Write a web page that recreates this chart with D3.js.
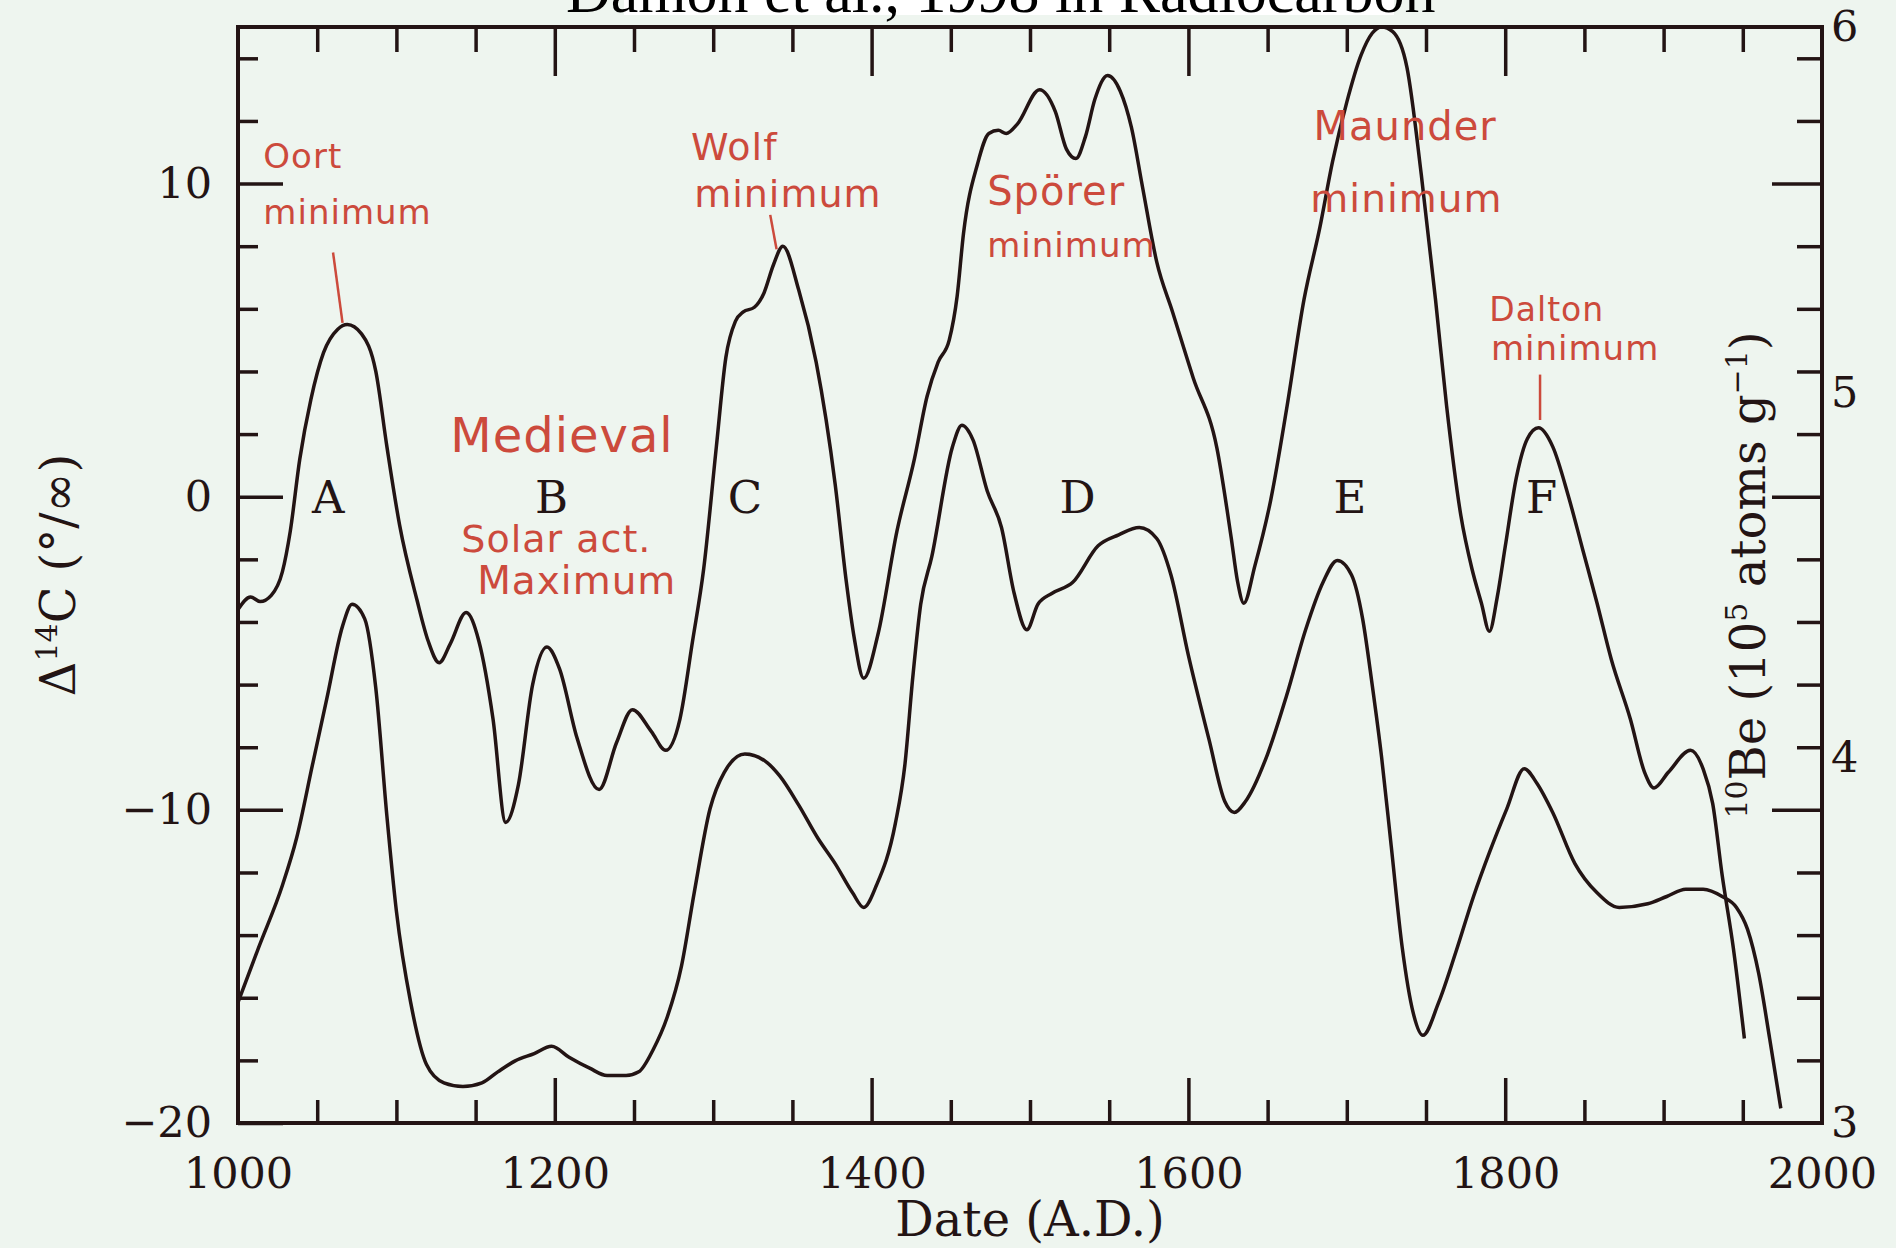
<!DOCTYPE html>
<html lang="en">
<head>
<meta charset="UTF-8">
<title>Damon et al., 1998 in Radiocarbon</title>
<style>
  body { margin: 0; background: #eef5ef; }
  svg { display: block; }
</style>
</head>
<body>
<svg width="1896" height="1248"></svg>
<script src="https://d3js.org/d3.v7.min.js"></script>
<script>

// delta 14C record (left axis, per mil)
var c14Years = [1000, 1008, 1014, 1021, 1028, 1033, 1039, 1046, 1054, 1063, 1069, 1078, 1087, 1094, 1102, 1113,
  1120, 1127, 1134, 1144, 1152, 1161, 1169, 1177, 1186, 1195, 1203, 1214, 1228, 1239, 1249, 1261, 1270, 1279,
  1287, 1294, 1302, 1308, 1314, 1319, 1326, 1332, 1338, 1344, 1354, 1365, 1377, 1384, 1389, 1395, 1404, 1416,
  1427, 1435, 1442, 1449, 1454, 1458, 1467, 1474, 1480, 1485, 1492, 1506, 1516, 1523, 1529, 1535, 1541, 1549,
  1557, 1564, 1571, 1580, 1590, 1603, 1618, 1627, 1631, 1635, 1642, 1652, 1662, 1673, 1683, 1691, 1700, 1709,
  1716, 1722, 1729, 1738, 1747, 1756, 1763, 1772, 1779, 1785, 1790, 1795, 1800, 1807, 1814, 1821, 1830, 1840,
  1849, 1858, 1867, 1879, 1888, 1894, 1903, 1917, 1925, 1931, 1937, 1944, 1951];
var c14Values = [-3.6, -3.2, -3.35, -3.15, -2.4, -1.1, 1.2, 3.1, 4.6, 5.35, 5.5, 5.2, 4.0, 1.6, -0.9, -3.3,
  -4.6, -5.3, -4.7, -3.7, -4.6, -7.1, -10.4, -9.2, -6.0, -4.8, -5.5, -7.7, -9.35, -7.85, -6.8, -7.5, -8.1, -7.1,
  -4.6, -2.3, 1.6, 4.45, 5.6, 5.9, 6.05, 6.5, 7.4, 8.0, 6.6, 4.3, 0.4, -2.7, -4.5, -5.8, -4.4, -1.1,
  1.2, 3.2, 4.3, 5.0, 6.4, 8.4, 10.65, 11.6, 11.7, 11.6, 11.9, 13.0, 12.3, 11.1, 10.8, 11.5, 12.7, 13.45,
  12.95, 11.8, 9.9, 7.5, 5.9, 3.8, 1.55, -1.3, -2.7, -3.4, -2.2, -0.1, 2.8, 6.3, 8.6, 10.7, 12.6, 14.1,
  14.8, 15.0, 14.85, 13.7, 10.3, 6.3, 2.9, -0.6, -2.3, -3.4, -4.3, -3.2, -1.6, 0.6, 1.85, 2.2, 1.6, 0.0,
  -1.7, -3.4, -5.2, -7.1, -8.8, -9.3, -8.8, -8.1, -8.7, -9.8, -12.1, -14.4, -17.3];

// 10Be record (right axis, 10^5 atoms/g)
var beYears = [1000, 1013, 1028, 1037, 1047, 1056, 1066, 1072, 1080, 1087, 1094, 1100, 1109, 1119, 1130, 1142,
  1154, 1164, 1175, 1187, 1198, 1209, 1222, 1233, 1245, 1253, 1262, 1271, 1280, 1288, 1298, 1307, 1320, 1333,
  1342, 1354, 1366, 1377, 1388, 1395, 1403, 1415, 1421, 1426, 1431, 1438, 1451, 1457, 1464, 1473, 1482, 1490,
  1498, 1505, 1514, 1527, 1543, 1556, 1569, 1580, 1589, 1600, 1613, 1623, 1629, 1636, 1650, 1662, 1674, 1685,
  1694, 1703, 1710, 1716, 1722, 1728, 1735, 1742, 1748, 1758, 1769, 1780, 1790, 1801, 1812, 1820, 1830, 1844,
  1858, 1872, 1890, 1902, 1914, 1925, 1937, 1946, 1953, 1960, 1967, 1974];
var beValues = [3.33, 3.48, 3.65, 3.78, 3.98, 4.16, 4.36, 4.42, 4.38, 4.19, 3.84, 3.58, 3.33, 3.16, 3.11, 3.10,
  3.11, 3.14, 3.17, 3.19, 3.21, 3.18, 3.15, 3.13, 3.13, 3.14, 3.20, 3.29, 3.43, 3.63, 3.86, 3.96, 4.01, 3.99,
  3.95, 3.87, 3.78, 3.71, 3.63, 3.59, 3.65, 3.82, 3.98, 4.22, 4.42, 4.55, 4.85, 4.91, 4.87, 4.73, 4.63, 4.45,
  4.35, 4.42, 4.45, 4.48, 4.58, 4.61, 4.63, 4.60, 4.50, 4.28, 4.05, 3.88, 3.85, 3.88, 4.01, 4.17, 4.35, 4.48,
  4.54, 4.50, 4.38, 4.20, 4.00, 3.76, 3.48, 3.30, 3.24, 3.33, 3.47, 3.62, 3.74, 3.86, 3.97, 3.93, 3.85, 3.71,
  3.63, 3.59, 3.60, 3.62, 3.64, 3.64, 3.62, 3.59, 3.53, 3.41, 3.23, 3.04];

var xMinorTicks = [1050, 1100, 1150, 1250, 1300, 1350, 1450, 1500, 1550, 1650, 1700, 1750, 1850, 1900, 1950];
var xMajorTicks = [1200, 1400, 1600, 1800];
var xLabels = [1000, 1200, 1400, 1600, 1800, 2000];
var leftMinorTicks = [-18, -16, -14, -12, -8, -6, -4, -2, 2, 4, 6, 8, 12, 14];
var leftMajorTicks = [-20, -10, 0, 10];
var rightLabels = [3, 4, 5, 6];

var periodLetters = ["A", "B", "C", "D", "E", "F"];
var periodYears = [1057, 1198, 1320, 1530, 1702, 1823];

var noteText = ["Oort", "minimum", "Wolf", "minimum", "Spörer", "minimum", "Maunder", "minimum",
  "Dalton", "minimum", "Medieval", "Solar act.", "Maximum"];
var noteYear = [1016, 1016, 1286, 1288, 1473, 1473, 1679, 1677, 1790, 1791, 1134, 1141, 1151];
var noteValue = [10.5, 8.71, 10.75, 9.25, 9.32, 7.66, 11.4, 9.1, 5.61, 4.37, 1.43, -1.75, -3.1];
var noteSize = [34, 34, 38, 38, 40, 34, 40, 39, 33, 34, 48, 38, 39];

var leaderFrom = [[1060, 7.8], [1336, 9.0], [1822, 3.9]];
var leaderTo = [[1066, 5.55], [1340, 7.9], [1822, 2.45]];

var ink = "#231414",
    red = "#cc4a3c";

var svg = d3.select("svg"),
    margin = {top: 27, right: 74, bottom: 125, left: 238},
    width = +svg.attr("width") - margin.left - margin.right,
    height = +svg.attr("height") - margin.top - margin.bottom;

svg.append("rect")
    .attr("width", +svg.attr("width"))
    .attr("height", +svg.attr("height"))
    .attr("fill", "#eef5ef");

// slide title, cut off at the top edge
svg.append("rect")
    .attr("x", 624).attr("y", 0)
    .attr("width", 770).attr("height", 15)
    .attr("fill", "#ffffff");
svg.append("text")
    .attr("x", 566).attr("y", 12)
    .attr("font-family", "Liberation Serif")
    .attr("font-size", 62)
    .attr("fill", "#000")
    .text("Damon et al., 1998 in Radiocarbon");

var g = svg.append("g").attr("transform", "translate(" + margin.left + "," + margin.top + ")");

var x = d3.scaleLinear().domain([1000, 2000]).range([0, width]);
var yL = d3.scaleLinear().domain([-20, 15]).range([height, 0]);
var yR = d3.scaleLinear().domain([3, 6]).range([height, 0]);

function styleAxis(sel) {
  sel.select(".domain").remove();
  sel.selectAll("line").attr("stroke", ink).attr("stroke-width", 3.5);
  sel.selectAll("text")
      .attr("fill", ink)
      .attr("font-family", "DejaVu Serif")
      .attr("font-size", 43);
}

// left axis
g.append("g")
    .call(d3.axisLeft(yL).tickValues(leftMinorTicks).tickSizeInner(-20).tickSizeOuter(0).tickFormat(""))
    .call(styleAxis);
g.append("g")
    .call(d3.axisLeft(yL).tickValues(leftMajorTicks).tickSizeInner(-45).tickSizeOuter(0).tickPadding(26))
    .call(styleAxis);

// right axis: ticks mirror the left scale, labels use the 10Be scale
g.append("g")
    .attr("transform", "translate(" + width + ",0)")
    .call(d3.axisRight(yL).tickValues(leftMinorTicks).tickSizeInner(-25).tickSizeOuter(0).tickFormat(""))
    .call(styleAxis);
g.append("g")
    .attr("transform", "translate(" + width + ",0)")
    .call(d3.axisRight(yL).tickValues([-10, 0, 10]).tickSizeInner(-50).tickSizeOuter(0).tickFormat(""))
    .call(styleAxis);
g.append("g")
    .attr("transform", "translate(" + width + ",0)")
    .call(d3.axisRight(yR).tickValues(rightLabels).tickSize(0).tickPadding(9).tickFormat(d3.format("d")))
    .call(styleAxis);

// top axis
g.append("g")
    .call(d3.axisTop(x).tickValues(xMinorTicks).tickSizeInner(-25).tickSizeOuter(0).tickFormat(""))
    .call(styleAxis);
g.append("g")
    .call(d3.axisTop(x).tickValues(xMajorTicks).tickSizeInner(-49).tickSizeOuter(0).tickFormat(""))
    .call(styleAxis);

// bottom axis
g.append("g")
    .attr("transform", "translate(0," + height + ")")
    .call(d3.axisBottom(x).tickValues(xMinorTicks).tickSizeInner(-23).tickSizeOuter(0).tickFormat(""))
    .call(styleAxis);
g.append("g")
    .attr("transform", "translate(0," + height + ")")
    .call(d3.axisBottom(x).tickValues(xMajorTicks).tickSizeInner(-45).tickSizeOuter(0).tickFormat(""))
    .call(styleAxis);
g.append("g")
    .attr("transform", "translate(0," + height + ")")
    .call(d3.axisBottom(x).tickValues(xLabels).tickSize(0).tickPadding(34).tickFormat(d3.format("d")))
    .call(styleAxis);

// frame
g.append("rect")
    .attr("width", width)
    .attr("height", height)
    .attr("fill", "none")
    .attr("stroke", ink)
    .attr("stroke-width", 4);

// curves
var c14 = c14Years.map(function(d, i) { return [d, c14Values[i]]; });
var be = beYears.map(function(d, i) { return [d, beValues[i]]; });

g.append("path")
    .datum(c14)
    .attr("fill", "none")
    .attr("stroke", ink)
    .attr("stroke-width", 3.5)
    .attr("stroke-linejoin", "round")
    .attr("d", d3.line()
        .x(function(d) { return x(d[0]); })
        .y(function(d) { return yL(d[1]); })
        .curve(d3.curveMonotoneX));

g.append("path")
    .datum(be)
    .attr("fill", "none")
    .attr("stroke", ink)
    .attr("stroke-width", 3.5)
    .attr("stroke-linejoin", "round")
    .attr("d", d3.line()
        .x(function(d) { return x(d[0]); })
        .y(function(d) { return yR(d[1]); })
        .curve(d3.curveMonotoneX));

// period letters
g.selectAll(".period")
  .data(periodLetters)
  .enter().append("text")
    .attr("class", "period")
    .attr("x", function(d, i) { return x(periodYears[i]); })
    .attr("y", yL(0))
    .attr("dy", "0.36em")
    .attr("text-anchor", "middle")
    .attr("font-family", "DejaVu Serif")
    .attr("font-size", 45)
    .attr("fill", ink)
    .text(function(d) { return d; });

// red hand-written notes
g.selectAll(".note")
  .data(noteText)
  .enter().append("text")
    .attr("class", "note")
    .attr("x", function(d, i) { return x(noteYear[i]); })
    .attr("y", function(d, i) { return yL(noteValue[i]); })
    .attr("font-family", "DejaVu Sans")
    .attr("font-size", function(d, i) { return noteSize[i]; })
    .attr("letter-spacing", 1)
    .attr("fill", red)
    .text(function(d) { return d; });

g.selectAll(".leader")
  .data(leaderFrom)
  .enter().append("line")
    .attr("class", "leader")
    .attr("x1", function(d) { return x(d[0]); })
    .attr("y1", function(d) { return yL(d[1]); })
    .attr("x2", function(d, i) { return x(leaderTo[i][0]); })
    .attr("y2", function(d, i) { return yL(leaderTo[i][1]); })
    .attr("stroke", red)
    .attr("stroke-width", 2.5);

// axis titles
svg.append("text")
    .attr("x", margin.left + width / 2)
    .attr("y", 1236)
    .attr("text-anchor", "middle")
    .attr("font-family", "DejaVu Serif")
    .attr("font-size", 48)
    .attr("fill", ink)
    .text("Date (A.D.)");

var lt = svg.append("text")
    .attr("transform", "translate(75," + (margin.top + height / 2) + ") rotate(-90)")
    .attr("text-anchor", "middle")
    .attr("font-family", "DejaVu Serif")
    .attr("font-size", 48)
    .attr("fill", ink);
lt.append("tspan").text("Δ");
lt.append("tspan").attr("dy", -18).attr("font-size", 30).text("14");
lt.append("tspan").attr("dy", 18).text("C (°/∞)");

var rt = svg.append("text")
    .attr("transform", "translate(1765," + (margin.top + height / 2) + ") rotate(-90)")
    .attr("text-anchor", "middle")
    .attr("font-family", "DejaVu Serif")
    .attr("font-size", 48)
    .attr("fill", ink);
rt.append("tspan").attr("dy", -18).attr("font-size", 30).text("10");
rt.append("tspan").attr("dy", 18).text("Be (10");
rt.append("tspan").attr("dy", -18).attr("font-size", 30).text("5");
rt.append("tspan").attr("dy", 18).text(" atoms g");
rt.append("tspan").attr("dy", -18).attr("font-size", 30).text("−1");
rt.append("tspan").attr("dy", 18).text(")");

</script>
</body>
</html>
